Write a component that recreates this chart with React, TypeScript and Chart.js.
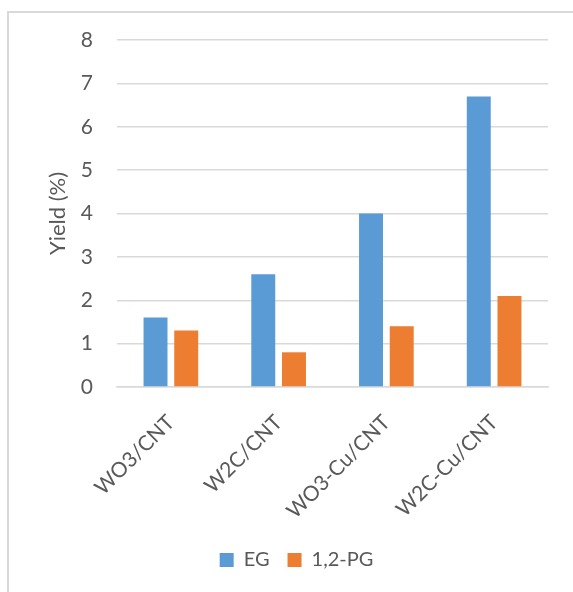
import { useEffect, useRef } from "react";
import { Chart, registerables } from "chart.js";

Chart.register(...registerables);

// Catalysts on the category axis
const catalysts = ["WO3/CNT", "W2C/CNT", "WO3-Cu/CNT", "W2C-Cu/CNT"];
// Product yields (%)
const egYield = [1.6, 2.6, 4.0, 6.7];
const pgYield = [1.3, 0.8, 1.4, 2.1];
// Value axis range
const yMin = 0;
const yMax = 8;
const yStep = 1;

const FONT = "Lato, 'Open Sans', 'DejaVu Sans', sans-serif";
const TEXT = "#595959";
const GRID = "#d9d9d9";
const BLUE = "#5b9bd5";
const ORANGE = "#ed7d31";

export default function App() {
  const canvasRef = useRef<HTMLCanvasElement | null>(null);

  useEffect(() => {
    const canvas = canvasRef.current;
    if (!canvas) return;
    const chart = new Chart(canvas, {
      type: "bar",
      data: {
        labels: catalysts,
        datasets: [
          {
            label: "EG",
            data: egYield,
            backgroundColor: BLUE,
            categoryPercentage: 0.57,
            barPercentage: 0.78,
          },
          {
            label: "1,2-PG",
            data: pgYield,
            backgroundColor: ORANGE,
            categoryPercentage: 0.57,
            barPercentage: 0.78,
          },
        ],
      },
      options: {
        responsive: false,
        animation: false,
        devicePixelRatio: 1,
        layout: { padding: { left: 45, right: 25, top: 40, bottom: 12 } },
        plugins: {
          tooltip: { enabled: false },
          legend: {
            position: "bottom",
            labels: {
              boxWidth: 14,
              boxHeight: 14,
              padding: 18,
              color: TEXT,
              font: { family: FONT, size: 20 },
            },
          },
        },
        scales: {
          x: {
            grid: { display: false, drawTicks: false },
            border: { display: true, color: GRID, width: 1.5 },
            ticks: {
              color: TEXT,
              font: { family: FONT, size: 21 },
              maxRotation: 45,
              minRotation: 45,
              padding: 23,
            },
            afterFit: (scale: any) => {
              scale.height = 145;
            },
          },
          y: {
            min: yMin,
            max: yMax,
            grid: { color: GRID, lineWidth: 1.5, drawTicks: false },
            border: { display: false },
            ticks: {
              stepSize: yStep,
              color: TEXT,
              font: { family: FONT, size: 21 },
              padding: 24,
            },
            title: {
              display: true,
              text: "Yield (%)",
              color: TEXT,
              font: { family: FONT, size: 22 },
              padding: 0,
            },
            afterFit: (scale: any) => {
              scale.width = 72;
            },
          },
        },
      },
    });
    return () => chart.destroy();
  }, []);

  return (
    <div
      style={{
        position: "fixed",
        left: 0,
        top: 0,
        width: 573,
        height: 592,
        overflow: "hidden",
        background: "#ffffff",
      }}
    >
      <div
        style={{
          position: "absolute",
          left: 7,
          top: 11,
          width: 640,
          height: 640,
          borderLeft: `2px solid ${GRID}`,
          borderTop: `2px solid ${GRID}`,
        }}
      />
      <canvas
        ref={canvasRef}
        width={573}
        height={592}
        style={{ position: "absolute", left: 0, top: 0, width: 573, height: 592 }}
      />
    </div>
  );
}
